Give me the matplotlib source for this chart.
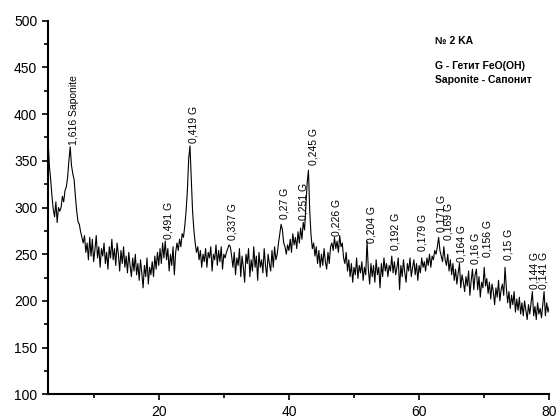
import matplotlib
matplotlib.use('Agg')
import matplotlib.pyplot as plt
import numpy as np

plt.rcParams['font.family'] = ['Liberation Sans', 'DejaVu Sans']

# 2-theta from 3.0 to 80.0, step 0.2
two_theta_start = 3.0
two_theta_step = 0.2
intensity = [
    372, 345, 330, 312, 298, 290, 306, 284, 300, 296,   # 3.0
    300, 312, 306, 318, 322, 332, 350, 365, 345, 336,   # 5.0
    330, 312, 296, 285, 282, 274, 268, 262, 270, 252,   # 7.0
    262, 244, 268, 248, 266, 242, 255, 270, 246, 258,   # 9.0
    236, 256, 248, 262, 240, 252, 234, 258, 246, 266,   # 11.0
    244, 256, 238, 262, 250, 232, 254, 240, 258, 236,   # 13.0
    248, 230, 252, 238, 226, 246, 232, 250, 228, 240,   # 15.0
    222, 244, 230, 214, 238, 226, 246, 218, 236, 228,   # 17.0
    242, 226, 248, 234, 252, 238, 256, 240, 262, 246,   # 19.0
    264, 244, 256, 232, 250, 238, 258, 228, 252, 262,   # 21.0
    254, 266, 258, 272, 268, 280, 296, 318, 352, 366,   # 23.0
    330, 296, 276, 262, 252, 258, 244, 254, 236, 250,   # 25.0
    242, 256, 236, 252, 246, 258, 232, 250, 244, 260,   # 27.0
    238, 254, 242, 258, 234, 250, 246, 252, 256, 260,   # 29.0
    258, 248, 236, 252, 228, 246, 238, 256, 226, 248,   # 31.0
    236, 220, 250, 240, 256, 226, 244, 232, 258, 236,   # 33.0
    248, 222, 252, 236, 244, 230, 256, 238, 226, 250,   # 35.0
    240, 232, 254, 236, 258, 244, 250, 262, 272, 282,   # 37.0
    276, 262, 258, 250, 260, 254, 266, 252, 272, 260,   # 39.0
    268, 256, 274, 262, 278, 266, 284, 276, 300, 326,   # 41.0
    340, 296, 270, 256, 262, 248, 258, 240, 254, 236,   # 43.0
    250, 238, 256, 242, 234, 252, 240, 258, 262, 254,   # 45.0
    268, 256, 264, 252, 270, 258, 262, 246, 240, 252,   # 47.0
    232, 244, 226, 240, 220, 236, 228, 246, 224, 238,   # 49.0
    230, 242, 222, 236, 228, 264, 234, 218, 240, 226,   # 51.0
    238, 220, 244, 228, 236, 214, 240, 226, 246, 232,   # 53.0
    240, 226, 238, 232, 248, 230, 242, 228, 236, 246,   # 55.0
    212, 238, 226, 244, 230, 220, 240, 232, 246, 226,   # 57.0
    236, 244, 228, 240, 222, 238, 230, 246, 236, 242,   # 59.0
    232, 246, 238, 250, 236, 248, 244, 254, 250, 258,   # 61.0
    268, 254, 248, 242, 258, 244, 238, 250, 232, 244,   # 63.0
    228, 240, 222, 234, 218, 230, 240, 214, 228, 220,   # 65.0
    210, 226, 216, 232, 206, 222, 234, 212, 228, 234,   # 67.0
    212, 226, 204, 220, 214, 236, 216, 224, 208, 220,   # 69.0
    202, 218, 210, 196, 214, 204, 222, 200, 212, 218,   # 71.0
    206, 236, 214, 198, 210, 192, 206, 196, 210, 188,   # 73.0
    202, 190, 204, 186, 198, 184, 200, 190, 180, 196,   # 75.0
    186, 198, 210, 184, 194, 180, 198, 186, 192, 182,   # 77.0
    196, 210, 184, 198, 188, 194,                       # 79.0
]
two_theta = two_theta_start + two_theta_step * np.arange(len(intensity))

# Peak labels (d-spacing, phase)
peak_labels = ['1,616 Saponite', '0,491 G', '0,419 G', '0,337 G', '0,27 G',
               '0,251 G', '0,245 G', '0,226 G', '0,204 G', '0,192 G',
               '0,179 G', '0,171 G', '0,169 G', '0,164 G', '0,16 G',
               '0,156 G', '0,15 G', '0,144 G', '0,141 G']
peak_x = [7.0, 21.5, 25.3, 31.3, 39.25, 42.2, 43.75, 47.3, 52.7, 56.3,
          60.55, 63.5, 64.5, 66.5, 68.7, 70.5, 73.8, 77.7, 79.1]
peak_y = [367, 266, 369, 265, 288, 287, 345, 270, 262, 254,
          253, 274, 265, 242, 240, 247, 244, 213, 213]

fig = plt.figure(figsize=(5.58, 4.19), dpi=100)
ax = fig.add_axes([0.0866, 0.0589, 0.8978, 0.8917])

ax.plot(two_theta, intensity, color='black', linewidth=0.8)

for lab, x, y in zip(peak_labels, peak_x, peak_y):
    ax.text(x, y, lab, rotation=90, ha='center', va='bottom', fontsize=7.5)

ax.text(62.4, 484, '№ 2 KA', fontsize=7.5, fontweight='bold', va='top')
ax.text(62.4, 457, 'G - Гетит FeO(OH)', fontsize=7.5, fontweight='bold', va='top')
ax.text(62.4, 442, 'Saponite - Сапонит', fontsize=7.5, fontweight='bold', va='top')

ax.set_xlim(3.04, 80)
ax.set_ylim(100, 500)
ax.set_xticks([20, 40, 60, 80])
ax.set_xticks([10, 30, 50, 70], minor=True)
ax.set_yticks(np.arange(100, 501, 50))
ax.set_yticks(np.arange(125, 500, 50), minor=True)
ax.tick_params(which='major', direction='out', length=4.5, width=1.2, labelsize=10)
ax.tick_params(which='minor', direction='out', length=3, width=1.2)

for side in ['top', 'right']:
    ax.spines[side].set_visible(False)
for side in ['left', 'bottom']:
    ax.spines[side].set_linewidth(1.5)

plt.savefig('out.png', dpi=100)
